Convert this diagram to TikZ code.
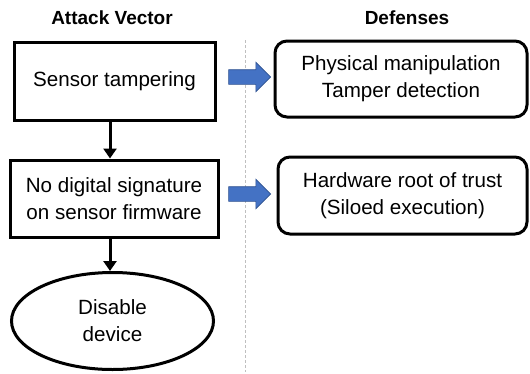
\documentclass[tikz,border=0pt]{standalone}
\usepackage{fontspec}
\setmainfont{Liberation Sans}
\usetikzlibrary{shapes.geometric,shapes.arrows,arrows.meta}
\definecolor{flowblue}{HTML}{4472C4}
\definecolor{flowblueedge}{HTML}{2F528F}
\definecolor{divider}{HTML}{BFBFBF}
\tikzset{
  bodytext/.style={font=\fontsize{20.6}{27}\selectfont, align=center},
  attackbox/.style={draw, line width=3pt, rectangle, inner sep=0pt, bodytext},
  defensebox/.style={draw, line width=3pt, rectangle, rounded corners=12pt, inner sep=0pt, bodytext},
  outcome/.style={draw, line width=3pt, ellipse, inner sep=0pt, bodytext},
  heading/.style={font=\fontsize{19}{22}\selectfont\bfseries},
  flowarrow/.style={draw, line width=3pt, -{Triangle[length=10pt,width=13pt]}},
  mapsto/.style={single arrow, fill=flowblue, draw=flowblueedge, line width=0.6pt,
    inner sep=7pt, single arrow head extend=7.5pt, minimum height=42pt,
    single arrow tip angle=90},
  divline/.style={draw=divider, line width=0.8pt, dash pattern=on 3pt off 2pt}
}
\begin{document}
\begin{tikzpicture}[x=1pt, y=-1pt]
  \useasboundingbox (0,0) rectangle (530,373);

  % column headings
  \node[heading] (hattack) at (112,18) {Attack Vector};
  \node[heading] (hdef) at (407,18) {Defenses};

  % divider between the two columns
  \coordinate (dtop) at (245,40);
  \coordinate (dbot) at (245,372);
  \path[divline] (dtop) -- (dbot);

  % attack chain
  \node[attackbox, minimum width=201pt, minimum height=78pt] (tamper) at (114.5,81) {Sensor tampering};
  \node[attackbox, minimum width=208pt, minimum height=77pt] (nosig) at (114,198.5) {No digital signature\\on sensor firmware};
  \node[outcome, minimum width=202pt, minimum height=97pt] (disable) at (112.5,321) {Disable\\device};

  \draw[flowarrow] (tamper.south -| 110,0) -- (nosig.north -| 110,0);
  \draw[flowarrow] (nosig.south -| 110,0) -- (disable.north -| 110,0);

  % defenses
  \node[defensebox, minimum width=252pt, minimum height=76pt] (physical) at (401,79) {Physical manipulation\\Tamper detection};
  \node[defensebox, minimum width=249pt, minimum height=77pt] (hwroot) at (402.5,195.5) {Hardware root of trust\\(Siloed execution)};

  % mapping arrows from attacks to defenses
  \node[mapsto] (m1) at (246,77) {};
  \node[mapsto] (m2) at (246,194) {};
\end{tikzpicture}
\end{document}
